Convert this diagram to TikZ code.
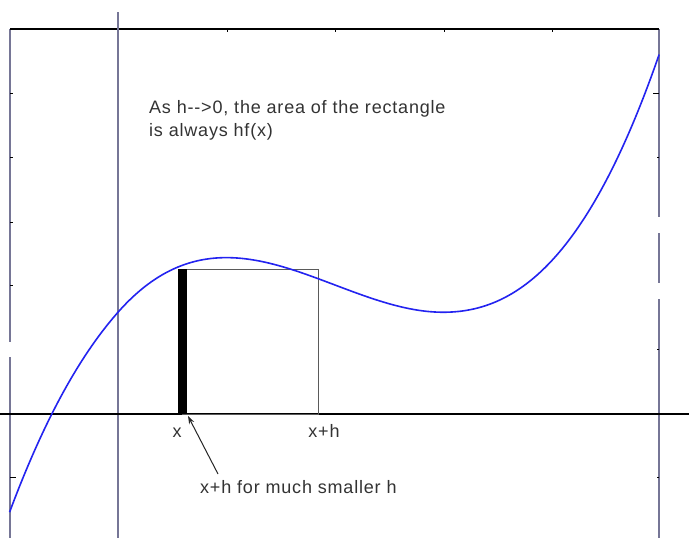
\documentclass[tikz,border=0pt]{standalone}
\usepackage{fontspec}
\newfontfamily\lbl{Liberation Sans}[LetterSpace=4.5]
\usetikzlibrary{arrows.meta}
\definecolor{axgray}{RGB}{118,118,150}
\definecolor{curveblue}{RGB}{35,35,240}
\definecolor{rectgray}{RGB}{90,90,90}
\tikzset{
  vline/.style={draw=axgray,line width=2pt},
  hline/.style={draw=black,line width=1.2pt},
  tickline/.style={draw=black,line width=1pt},
  rectline/.style={draw=rectgray,line width=1pt},
  fcurve/.style={draw=curveblue,line width=1.6pt},
  lab/.style={inner sep=0pt,font=\lbl\fontsize{18}{23}\selectfont,text=black!80},
  pointer/.style={draw=black!85,line width=1pt,-{Stealth[length=8pt,width=5.5pt]}}
}
\begin{document}
\begin{tikzpicture}[x=1pt,y=-1pt]
\useasboundingbox (0,0) rectangle (689,538);
\fill[white] (0,0) rectangle (689,538);
% frame
\draw[vline] (10,29) -- (10,342) (10,357) -- (10,538);
\draw[vline] (659,29) -- (659,217) (659,233) -- (659,283) (659,299) -- (659,538);
\draw[hline] (10,29) -- (659,29);
% ticks
\foreach \tx in {227,335,444,552} \draw[tickline] (\tx,29) -- (\tx,31.5);
\foreach \ty in {93,157,222,285} \draw[tickline] (10,\ty) -- (12.5,\ty);
\draw[tickline] (10,477) -- (16,477);
\draw[tickline] (659,93) -- (653,93);
\foreach \ty in {157,349,477} \draw[tickline] (659,\ty) -- (656.5,\ty);
% axes
\draw[vline] (118,12) -- (118,538);
\draw[hline] (0,414) -- (689,414);
% rectangle
\draw[rectline] (182,269) rectangle (318,414);
\fill[black] (178,269) rectangle (187,414);
% curve
\draw[fcurve] plot[domain=-1:4.995,samples=240,variable=\u,smooth]
  ({118+108.4*\u},
   {414-64*(0.64*(\u*\u*\u/3-2*\u*\u+3*\u)+1.59
      +0.29*min(\u,0)*min(\u,0)-0.05*max(\u-3,0)*max(\u-3,0))});
% labels
\node[lab,anchor=base west] (line1) at (149,113) {As h-->0, the area of the rectangle};
\node[lab,anchor=base west] (line2) at (149,136) {is always hf(x)};
\node[lab,anchor=base] (xlab) at (177,437) {x};
\node[lab,anchor=base] (xhlab) at (324,437) {x+h};
\node[lab,anchor=base west] (note) at (200,493) {x+h for much smaller h};
\coordinate (tail) at (218,474);
\coordinate (tip) at (188,416);
\draw[pointer] (tail) -- (tip);
\end{tikzpicture}
\end{document}
